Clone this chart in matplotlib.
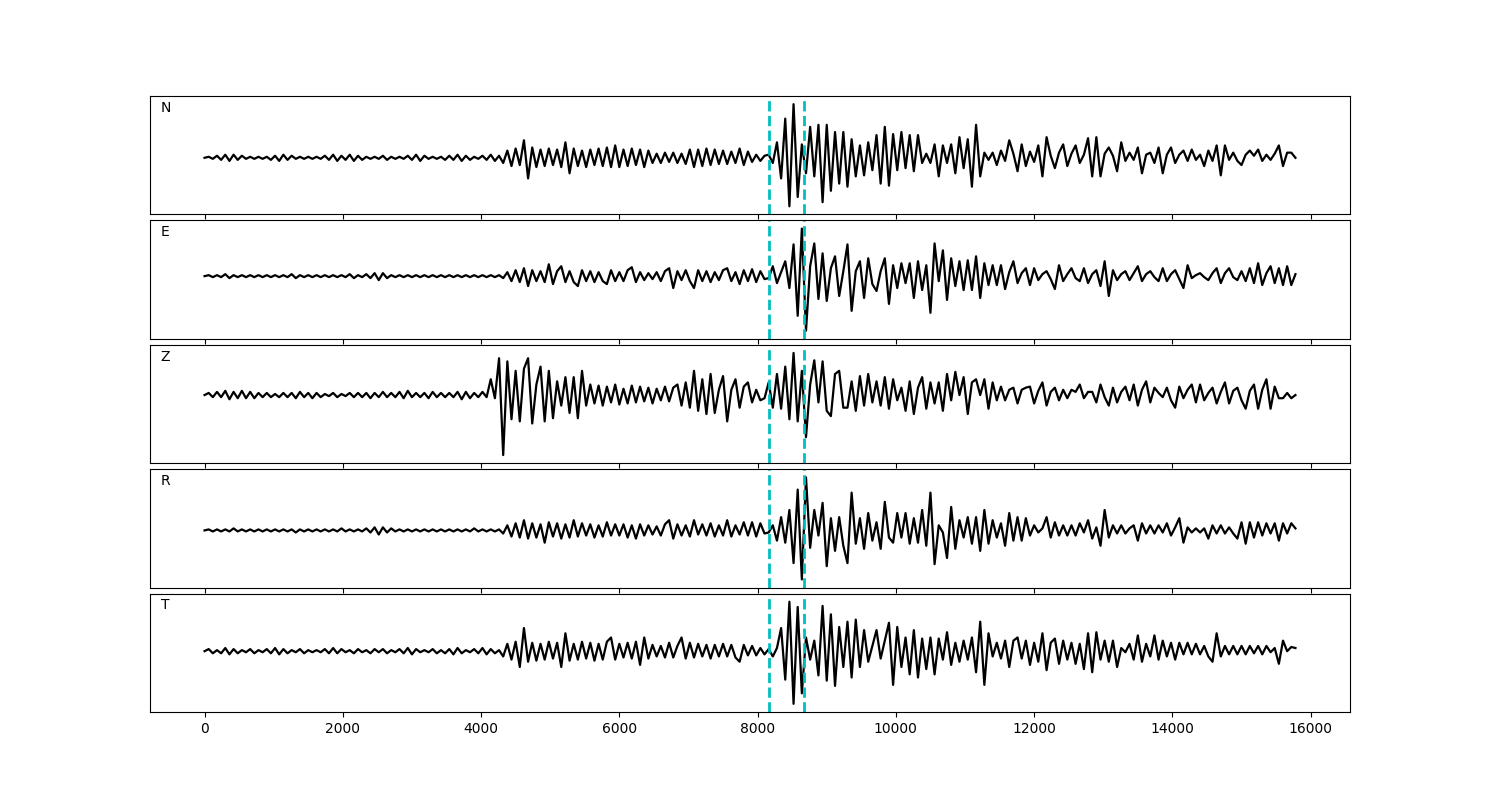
import numpy as np
import matplotlib.pyplot as plt

# three-component record rotated to R/T, values every 60 samples
dt = 60
picks = [8160, 8667]
names = ['N', 'E', 'Z', 'R', 'T']

north = [
    0, 1, -1, 2, -2, 3, -3, 3, -2, 2, -1, 1,
    -1, 1, -1, 1, -2, 2, -3, 3, -2, 2, -1, 1,
    -1, 1, -1, 1, -1, 2, -2, 3, -3, 2, -2, 3,
    -3, 2, -2, 1, -1, 1, -1, 2, -2, 1, -1, 1,
    -1, 2, -2, 3, -3, 2, -1, 1, -1, 1, -2, 2,
    -2, 3, -3, 2, -2, 1, -1, 2, -2, 3, -3, 2,
    -5, 7, -8, 9, -7, 17, -20, 10, -9, 8, -8, 9,
    -7, 8, -9, 15, -15, 9, -8, 7, -9, 8, -7, 9,
    -8, 10, -9, 12, -9, 8, -8, 9, -7, 8, -9, 7,
    -5, 4, -5, 5, -4, 5, -5, 4, -6, 8, -9, 8,
    -8, 9, -7, 8, -6, 7, -6, 6, -5, 9, -7, 6,
    -4, 3, -3, 2,
    3, -5, 15, -20, 38, -47, 52, -38, 13, -15, 30, -18,
    32, -43, 32, -32, 25, -25, 25, -28, 18, -18, 12, -17,
    15, -12, 22, -25, 30, -27,
    23, -12, 25, -10, 22, -13, 22, -5, 4, -5, 13, -18,
    12, -5, 13, -15, 20, -10, 18, -28, 32, -18, 5, -2,
    5, -7, 7, -3, 17, 4, -13, 13, -8, 6, -4, 12,
    -18, 20, 2, -10, 5, 13, -8, 4, 12, -5, 3, 19,
    -18, 20, -18, 4, 10, 2, -13, 15, -3, 5, -2, 10,
    -15, 3, 5, -5, 10, -15, 3, 10, -5, 3, 7, -3,
    8, -2, 3, -8, 7, -3, 12, -17, 12, -2, 5, -3,
    -7, 3, 7, 2, 8, -3, 3, -2, 4, 12, -8, 5,
    5, 0]

east = [
    0, 1, -1, 1, -1, 2, -2, 1, -1, 1, -1, 1,
    -1, 1, -1, 1, -1, 1, -1, 1, -1, 2, -2, 1,
    -1, 1, -1, 1, -1, 1, -1, 1, -1, 1, -1, 2,
    -2, 1, -1, 2, -2, 3, -4, 3, -2, 1, -1, 1,
    -1, 1, -1, 1, -1, 1, -1, 1, -1, 1, -1, 1,
    -1, 1, -1, 1, -1, 1, -1, 1, -1, 1, -1, 1,
    -2, 4, -5, 6, -6, 8, -10, 6, -5, 5, -6, 12,
    -8, 5, 10, -6, 5, -6, -10, 6, -5, 5, -6, 4,
    -5, -8, 6, -5, 4, -5, 6, 9, -6, 4, -4, 3,
    -3, 4, -5, 5, 8, -12, 5, -4, 6, -5, -12, 6,
    -5, 5, -6, 4, -4, 6, 8, -5, 4, -8, 6, -5,
    7, -6, 5, -3,
    -2, 10, -7, 4, 15, -12, 32, -40, 48, -55, 10, 33,
    -23, 23, -25, 8, 20, -20, 5, 32, -35, 5, 15, -22,
    18, -8, -15, 5, 18, -28,
    11, -12, 13, -7, 13, -22, 15, -14, 11, -37, 33, -5,
    26, -24, 18, -10, 15, -14, 16, -14, 20, -22, 13, -9,
    11, -9, 11, -13, 4, 15, -7, 3, 8, -9, 8, -4,
    2, 5, -3, -13, 11, -5, 2, 8, -2, -5, 8, -7,
    2, 6, -10, 15, -20, 6, -4, 2, 5, -4, 3, 10,
    -5, 2, 5, -1, -5, 8, -5, 2, 6, -3, -12, 11,
    -2, 1, 3, -1, -4, 3, 8, -7, 3, 8, -1, -4,
    5, -5, 8, -7, 13, -9, 3, 10, -7, 8, -9, 10,
    -9, 2]

vertical = [
    0, 2, -2, 3, -2, 4, -4, 3, -3, 4, -3, 3,
    -3, 2, -2, 2, -2, 1, -2, 2, -2, 2, -3, 3,
    -2, 2, -3, 2, -2, 1, -1, 2, -2, 1, -1, 2,
    -2, 2, -2, 2, -3, 2, -2, 3, -2, 2, -2, 3,
    -3, 4, -2, 2, -2, 2, -3, 3, -2, 2, -2, 2,
    -2, 3, -4, 3, -3, 2, -2, 3, -2,
    15, -3, 35, -57, 32, -23, 23, -25, 25, 35, -27, 10,
    27, -25, 23, -22, 13, -10, 17, -17, 17, -22, 23, -10,
    10, -8, 9, -10, 8, -7, 10, -9, 6, -8, 9, -7,
    8, -6, 7, -8, 6, -5, 8, -6, 7, 10, -10, 12,
    -12,
    23, -15, 15, -18, 20, -17, 5, 18, -25, 5, 15, -12,
    8, 12, -7, 5, -5, -3,
    12, -12, 20, -13, 27, -23, 40, -25, 23, -40, 10, 33,
    -7, 32, -15, -20, 20, 23, -12, -12, 13, -15, 18, -10,
    20, -7, 13, -10, 17, -13,
    15, -5, 7, -15, 13, -18, 7, 17, -13, 12, -8, 12,
    -15, 20, -5, 22, 0, 17, -18, 12, 15, 0, 15, -13,
    12, -5, 8, -5, 5, 7, -8, 5, 7, 8, -8, 4,
    12, -10, 3, 7, -5, 5, -3, 5, 3, 10, -3, 3,
    3, -7, 10, -2, -10, 7, -7, 3, 8, -5, 10, -10,
    5, 13, -7, 7, 2, -2, 7, -5, -12, 8, -3, 5,
    10, -7, 10, -5, 2, 7, -8, 3, 12, -8, 4, 7,
    -5, -13, 4, 10, -13, 5, 15, -13, 8, -3, -3, 2,
    -3, 0]

radial = [
    0, 1, -1, 1, -1, 1, -1, 2, -1, 1, -1, 1,
    -1, 1, -1, 1, -1, 1, -1, 1, -1, 1, -2, 1,
    -1, 1, -1, 1, -1, 1, -1, 1, -1, 2, -1, 1,
    -1, 1, -1, 2, -2, 3, -4, 3, -2, 2, -1, 1,
    -1, 1, -1, 1, -1, 1, -1, 1, -1, 1, -1, 1,
    -1, 1, -1, 1, -1, 2, -1, 1, -1, 1, -1, 1,
    -3, 5, -6, 7, -7, 10, -8, 7, -7, 6, -12, 8,
    -6, 7, -8, 6, -7, 10, -6, 7, -5, 6, -7, 5,
    -6, 8, -5, 6, -5, 6, -7, 5, -8, 6, -5, 5,
    -4, 4, -5, 6, 10, -8, 6, -5, 5, -6, 10, -4,
    6, -5, 7, -6, 5, -5, 10, -6, 5, -4, 8, -5,
    8, -6, 7, -3,
    -2, 5, -10, 13, -12, 20, -32, 40, -48, 52, -17, 20,
    -5, 27, -35, 12, -20, 13, -15, -32, 37, -13, 12, -18,
    17, -10, 8, -18, 28, -7,
    -12, 17, -7, 17, -13, 12, -12, 20, -15, 37, -33, 5,
    -2, -27, 23, -18, 10, -7, 13, -13, 13, -20, 20, -13,
    10, -7, 7, -15, 17, -10, 13, -10, 12, -5, 5, -2,
    2, 13, -7, 8, -5, 5, -5, 5, -5, 7, -2, 10,
    -8, 3, -15, 20, -7, 5, -3, 5, -3, 2, 5, -10,
    7, -3, 5, -3, 5, -2, 7, -5, 3, 12, -12, 3,
    -2, 2, -2, 2, -8, 5, -3, 5, -3, 3, -3, -8,
    8, -13, 8, -7, 8, -5, 7, -3, 7, -10, 7, -3,
    7, 2]

transverse = [
    0, 2, -2, 1, -2, 3, -3, 2, -2, 1, -1, 2,
    -2, 1, -1, 2, -2, 3, -3, 2, -2, 1, -1, 2,
    -2, 1, -1, 1, -1, 2, -2, 3, -2, 2, -1, 1,
    -2, 2, -1, 1, -2, 2, -1, 2, -2, 1, -1, 2,
    -2, 3, -3, 2, -1, 1, -1, 2, -2, 1, -2, 2,
    -3, 3, -2, 1, -1, 2, -2, 3, -3, 2, -2, 1,
    -5, 7, -8, 9, -15, 22, -10, 8, -9, 7, -8, 9,
    -7, 8, -15, 17, -9, 7, -8, 9, -7, 8, -9, 7,
    -8, 9, 13, -8, 7, -6, 8, -7, 9, -13, 13, -7,
    6, -5, 5, -6, 8, -6, 5, 13, -7, 8, -6, 7,
    -5, 6, -7, 6, -5, 7, -5, 6, -6, -10, 6, -4,
    5, -4, 3, -3,
    2, -5, 3, 22, -27, 47, -50, 42, -40, 13, -8, 10,
    -23, 43, -28, 35, -33, 23, -15, 28, -25, 30, -15, 20,
    -10, 5, 20, -7, 10, 27,
    -32, 23, -15, 13, -22, 20, -25, 12, -17, 13, -22, 12,
    -8, 18, -13, 8, -10, 10, -8, 13, -20, 28, -32, 17,
    -5, 8, -7, 10, -15, 10, 13, -7, 10, -13, 8, -10,
    17, -18, 8, 12, -12, 10, -8, 8, -12, 7, -17, 17,
    -20, 18, -8, 10, -10, 10, -15, 3, -1, 7, -8, 15,
    -10, 7, -5, 15, -8, 10, -5, 8, -8, 8, -3, 8,
    -3, 7, -3, 5, -5, -10, 17, -5, 5, -3, 5, -3,
    5, -3, 5, -2, 5, -3, 5, -1, 3, -12, 10, 0, 4, 3]

traces = [north, east, vertical, radial, transverse]

fig, axes = plt.subplots(5, 1, sharex=True, figsize=(15, 8))
fig.subplots_adjust(left=0.1, right=0.9, top=0.88, bottom=0.11, hspace=0.05)

for ax, name, tr in zip(axes, names, traces):
    tr = np.asarray(tr, dtype=float)
    t = np.arange(len(tr)) * dt
    ax.plot(t, tr, 'k', lw=1.6)
    for p in picks:
        ax.axvline(p, color='c', ls='--', lw=2)
    ax.margins(y=0.08)
    ax.set_yticks([])
    ax.text(0.009, 0.9, name, transform=ax.transAxes, va='center', ha='left')

fig.savefig('out.png', dpi=100)
